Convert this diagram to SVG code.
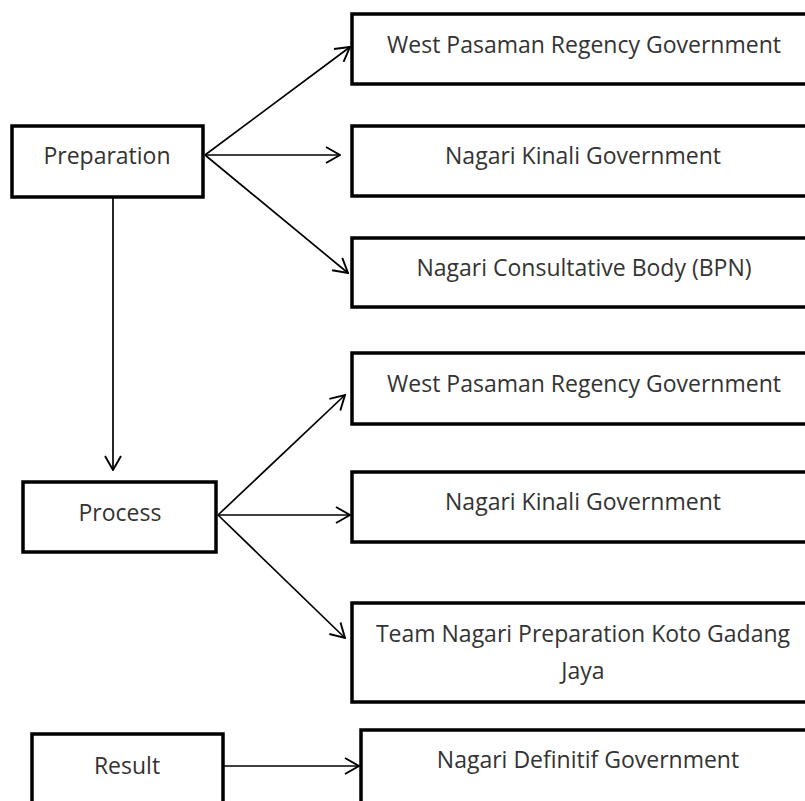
<svg xmlns="http://www.w3.org/2000/svg" width="805" height="801" viewBox="0 0 805 801">
<style>
.box{fill:#fff;stroke:#000;stroke-width:3.5}
.t{font-family:"Open Sans","Noto Sans",sans-serif;font-size:23px;fill:#333;text-anchor:middle}
.c{stroke:#000;stroke-width:1.7;fill:none;marker-end:url(#ah)}
</style>
<defs>
<marker id="ah" viewBox="0 0 16 18" refX="15" refY="9" markerWidth="16" markerHeight="18" markerUnits="userSpaceOnUse" orient="auto">
<path d="M1,1 L15,9 L1,17" fill="none" stroke="#000" stroke-width="1.9"/>
</marker>
</defs>
<rect width="805" height="801" fill="#fff"/>
<g id="connectors">
<line class="c" x1="205" y1="155" x2="350" y2="47"/>
<line class="c" x1="205" y1="155" x2="340" y2="155"/>
<line class="c" x1="205" y1="155" x2="348" y2="273"/>
<line class="c" x1="113" y1="198" x2="113" y2="470"/>
<line class="c" x1="218" y1="515" x2="345" y2="395"/>
<line class="c" x1="218" y1="515" x2="350" y2="515"/>
<line class="c" x1="218" y1="515" x2="345" y2="638"/>
<line class="c" x1="224" y1="766" x2="359" y2="766"/>
</g>
<g id="preparation"><rect class="box" x="12" y="126" width="191" height="71"/><text class="t" x="107" y="164">Preparation</text></g>
<g id="prep-west"><rect class="box" x="352" y="14" width="470" height="70"/><text class="t" x="584" y="53">West Pasaman Regency Government</text></g>
<g id="prep-kinali"><rect class="box" x="352" y="126" width="470" height="70"/><text class="t" x="583" y="164">Nagari Kinali Government</text></g>
<g id="prep-bpn"><rect class="box" x="352" y="238" width="470" height="69"/><text class="t" x="584" y="276">Nagari Consultative Body (BPN)</text></g>
<g id="process"><rect class="box" x="23" y="482" width="193" height="70"/><text class="t" x="120" y="521">Process</text></g>
<g id="proc-west"><rect class="box" x="352" y="353" width="470" height="71"/><text class="t" x="584" y="392">West Pasaman Regency Government</text></g>
<g id="proc-kinali"><rect class="box" x="352" y="472" width="470" height="70"/><text class="t" x="583" y="510">Nagari Kinali Government</text></g>
<g id="proc-team"><rect class="box" x="352" y="603" width="470" height="99"/><text class="t" x="583" y="642">Team Nagari Preparation Koto Gadang</text><text class="t" x="583" y="679">Jaya</text></g>
<g id="result"><rect class="box" x="32" y="734" width="191" height="80"/><text class="t" x="127" y="774">Result</text></g>
<g id="result-def"><rect class="box" x="361" y="730" width="470" height="84"/><text class="t" x="588" y="768">Nagari Definitif Government</text></g>
</svg>
